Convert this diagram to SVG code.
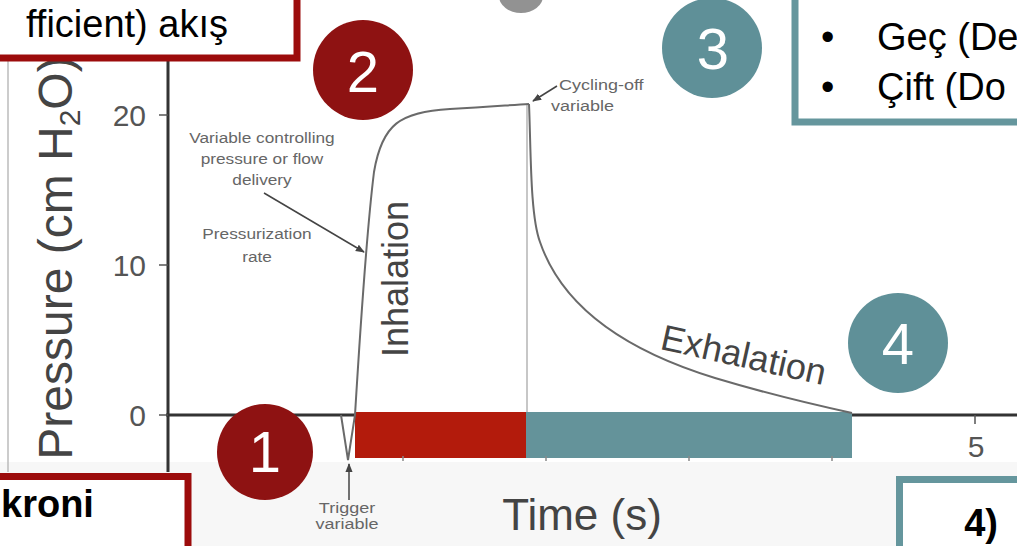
<svg xmlns="http://www.w3.org/2000/svg" width="1017" height="546" viewBox="0 0 1017 546">
<style>
.sans{font-family:"Liberation Sans",Arial,sans-serif}
.tick{font-family:"Liberation Sans",Arial,sans-serif;font-size:30px;fill:#555;text-anchor:end}
.small{font-family:"Liberation Sans",Arial,sans-serif;font-size:15px;fill:#666;text-anchor:middle}
.start{text-anchor:start}
.mid{text-anchor:middle}
.axis{stroke:#333;stroke-width:3;fill:none}
.curve{stroke:#6a6a6a;stroke-width:2;fill:none}
.num{font-family:"Liberation Sans",Arial,sans-serif;font-size:58px;fill:#fff;text-anchor:middle}
.red{fill:#8e1212}
.teal{fill:#5f9098}
.boxr{fill:#fff;stroke:#9c0c0c;stroke-width:7}
.boxt{fill:#fff;stroke:#65969d;stroke-width:7}
.btxt{font-family:"Liberation Sans",Arial,sans-serif;font-size:38px;fill:#000}
.bold{font-weight:bold}
.ptr{stroke:#444;stroke-width:1.5;fill:none;marker-end:url(#ah)}
</style>
<defs>
<marker id="ah" viewBox="0 0 10 10" refX="9" refY="5" markerWidth="6" markerHeight="6" orient="auto">
<path d="M0,1 L10,5 L0,9 z" fill="#444"/>
</marker>
</defs>
<rect x="0" y="0" width="1017" height="546" fill="#fff"/>
<rect x="0" y="462" width="1017" height="84" fill="#f7f7f7"/>
<ellipse cx="521" cy="-4" rx="22" ry="17" fill="#777" opacity="0.8"/>
<line x1="8" y1="60" x2="8" y2="472" stroke="#bbb" stroke-width="1.5"/>

<g id="axes">
<line class="axis" x1="168" y1="60" x2="168" y2="472"/>
<line class="axis" x1="166" y1="415" x2="1017" y2="415"/>
<line x1="159" y1="115" x2="168" y2="115" stroke="#555" stroke-width="1.5"/>
<line x1="159" y1="265" x2="168" y2="265" stroke="#555" stroke-width="1.5"/>
<line x1="159" y1="415" x2="168" y2="415" stroke="#555" stroke-width="1.5"/>
<line x1="975" y1="415" x2="975" y2="424" stroke="#555" stroke-width="1.5"/>
<text class="tick" x="146" y="126">20</text>
<text class="tick" x="146" y="276">10</text>
<text class="tick" x="146" y="426">0</text>
<text class="tick mid" x="976" y="457">5</text>
<text class="sans" transform="translate(72,258) rotate(-90)" text-anchor="middle" font-size="48" fill="#444">Pressure (cm H<tspan font-size="30" dy="8">2</tspan><tspan dy="-8">O)</tspan></text>
<text class="sans" x="582" y="530" text-anchor="middle" font-size="44" fill="#444">Time (s)</text>
</g>

<g id="phase-bars">
<rect x="355" y="412" width="171" height="46" fill="#b31b0c"/>
<rect x="526" y="412" width="326" height="46" fill="#64939a"/>
<line x1="403" y1="456" x2="403" y2="461" stroke="#888" stroke-width="1.5"/>
<line x1="546" y1="456" x2="546" y2="461" stroke="#888" stroke-width="1.5"/>
<line x1="689" y1="456" x2="689" y2="461" stroke="#888" stroke-width="1.5"/>
<line x1="832" y1="456" x2="832" y2="461" stroke="#888" stroke-width="1.5"/>
</g>

<g id="pressure-curve">
<line x1="527" y1="104" x2="527" y2="412" stroke="#b5b5b5" stroke-width="1.5"/>
<path class="curve" d="M341,415 L348,460 L355,415 C362,300 368,220 374,172 C382,124 400,112 450,109 C490,107 510,105 529,104"/>
<path class="curve" d="M529,104 C531,150 530,215 540,242 C565,315 640,355 715,378 C775,396 815,405 852,413"/>
<text class="sans" transform="translate(408,279) rotate(-90)" text-anchor="middle" font-size="36" fill="#444">Inhalation</text>
<text class="sans" transform="translate(741,367) rotate(12.5)" text-anchor="middle" font-size="36" fill="#444">Exhalation</text>
</g>

<g id="labels">
<text class="small" transform="translate(262,143) scale(1.15,1)">Variable controlling</text>
<text class="small" transform="translate(262,164) scale(1.15,1)">pressure or flow</text>
<text class="small" transform="translate(262,185) scale(1.15,1)">delivery</text>
<text class="small" transform="translate(257,239) scale(1.15,1)">Pressurization</text>
<text class="small" transform="translate(257,262) scale(1.15,1)">rate</text>
<text class="small start" transform="translate(559,90) scale(1.2,1)">Cycling-off</text>
<text class="small start" transform="translate(551,111) scale(1.2,1)">variable</text>
<text class="small" transform="translate(347,513) scale(1.2,1)" font-size="13">Trigger</text>
<text class="small" transform="translate(347,529) scale(1.2,1)" font-size="13">variable</text>
</g>

<g id="connectors">
<line class="ptr" x1="264" y1="193" x2="364" y2="252"/>
<line class="ptr" x1="557" y1="86" x2="533" y2="101"/>
<line class="ptr" x1="349" y1="500" x2="349" y2="464"/>
</g>

<g id="circle-1"><circle class="red" cx="265" cy="452" r="48"/><text class="num" x="265" y="472">1</text></g>
<g id="circle-2"><circle class="red" cx="363" cy="70" r="50"/><text class="num" x="363" y="92">2</text></g>
<g id="circle-3"><circle class="teal" cx="712" cy="48" r="50"/><text class="num" x="713" y="69">3</text></g>
<g id="circle-4"><circle class="teal" cx="898" cy="343" r="50"/><text class="num" x="898" y="364">4</text></g>

<g id="box-top-left">
<rect class="boxr" x="-10" y="-10" width="307" height="68"/>
<text class="btxt" x="228" y="37" text-anchor="end" font-size="42">fficient) akış</text>
</g>
<g id="box-top-right">
<rect class="boxt" x="795" y="-10" width="240" height="132"/>
<text class="btxt" x="821" y="50">•</text>
<text class="btxt" x="877" y="50">Geç (De</text>
<text class="btxt" x="821" y="100">•</text>
<text class="btxt" x="877" y="100">Çift (Do</text>
</g>
<g id="box-bottom-left">
<rect class="boxr" x="-10" y="476.5" width="198" height="90"/>
<text class="btxt bold" x="1" y="517" font-size="34">kroni</text>
</g>
<g id="box-bottom-right">
<rect class="boxt" x="899.5" y="479.5" width="130" height="90"/>
<text class="btxt bold" x="998" y="536" text-anchor="end" font-size="40">4)</text>
</g>
</svg>
